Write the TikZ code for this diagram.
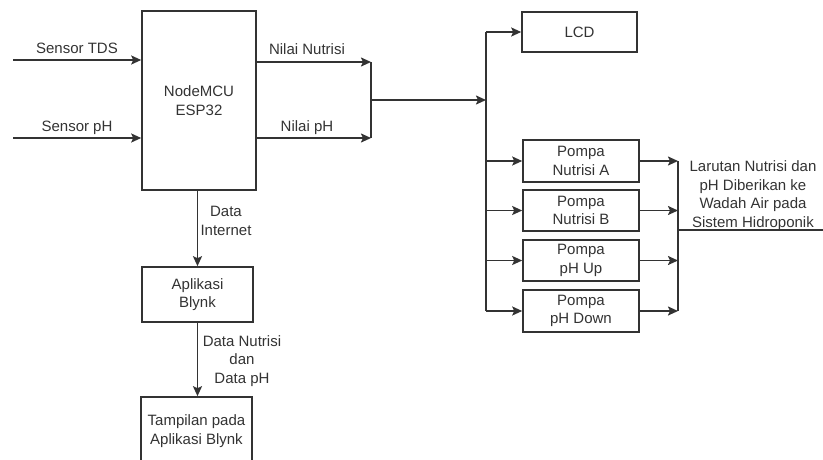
\documentclass[tikz,border=0pt]{standalone}
\usepackage{fontspec}
\setmainfont{Liberation Sans}
\usetikzlibrary{arrows.meta}
\definecolor{ink}{HTML}{333333}
\tikzset{
  blk/.style={draw=ink, line width=1.6pt, fill=white, text=ink, align=center, inner sep=0pt,
    font=\fontsize{15}{18.5}\selectfont},
  arr/.style={draw=ink, line width=1.8pt, -{Stealth[length=10pt,width=9pt,inset=2pt]}},
  ln/.style={draw=ink, line width=1.8pt},
  lbl/.style={text=ink, align=center, inner sep=0pt, font=\fontsize{15}{18.5}\selectfont}
}
\begin{document}
\begin{tikzpicture}[x=1pt,y=-1pt]
\useasboundingbox (0,0) rectangle (823,459);
\clip (0,0) rectangle (823,459);
% boxes
\node[blk, minimum width=114pt, minimum height=179pt] (mcu) at (199,100.5) {NodeMCU\\ESP32};
\node[blk, minimum width=115pt, minimum height=40pt] (lcd) at (579.5,32) {LCD};
\node[blk, minimum width=116pt, minimum height=42pt] (pa) at (581,161) {Pompa\\Nutrisi A};
\node[blk, minimum width=116pt, minimum height=41pt] (pb) at (581,210.5) {Pompa\\Nutrisi B};
\node[blk, minimum width=116pt, minimum height=41pt] (pc) at (581,260.5) {Pompa\\pH Up};
\node[blk, minimum width=116pt, minimum height=42pt] (pd) at (581,311) {Pompa\\pH Down};
\node[blk, minimum width=111pt, minimum height=55pt] (blynk) at (197.5,294.5) {Aplikasi\\Blynk};
\node[blk, minimum width=111pt, minimum height=68pt] (tamp) at (196.5,431) {Tampilan pada\\Aplikasi Blynk};
% inputs
\coordinate (tds) at (13,60);
\coordinate (sph) at (13,138);
\draw[arr] (tds) -- (tds -| mcu.west);
\draw[arr] (sph) -- (sph -| mcu.west);
\node[lbl] (ltds) at (77,48) {Sensor TDS};
\node[lbl] (lsph) at (77,128) {Sensor pH};
% outputs of mcu
\coordinate (ja) at (371,62);
\coordinate (jb) at (371,138);
\coordinate (jm) at (371,100);
\coordinate (bus) at (486,100);
\draw[arr] (ja -| mcu.east) -- (ja);
\draw[arr] (jb -| mcu.east) -- (jb);
\draw[ln] (ja) -- (jb);
\node[lbl] (lnn) at (307,49) {Nilai Nutrisi};
\node[lbl] (lnp) at (307,128) {Nilai pH};
\draw[arr] (jm) -- (bus);
% bus
\coordinate (bt) at (486,32);
\coordinate (bb) at (486,311);
\draw[ln] (bt) -- (bb);
\draw[arr] (bt) -- (bt -| lcd.west);
\draw[arr] (bt |- pa.west) -- (pa.west);
\draw[arr] (bt |- pb.west) -- (pb.west);
\draw[arr] (bt |- pc.west) -- (pc.west);
\draw[arr] (bt |- pd.west) -- (pd.west);
% outputs of pumps
\coordinate (ot) at (678,161);
\coordinate (ob) at (678,311);
\coordinate (om) at (678,230);
\coordinate (oe) at (823,230);
\draw[arr] (pa.east) -- (pa.east -| ot);
\draw[arr] (pb.east) -- (pb.east -| ot);
\draw[arr] (pc.east) -- (pc.east -| ot);
\draw[arr] (pd.east) -- (pd.east -| ot);
\draw[ln] (ot) -- (ob);
\draw[ln] (om) -- (oe);
\node[lbl] (lres) at (753,195.5) {Larutan Nutrisi dan\\pH Diberikan ke\\Wadah Air pada\\Sistem Hidroponik};
% blynk
\draw[arr] (mcu.south -| blynk.north) -- (blynk.north);
\draw[arr] (blynk.south) -- (blynk.south |- tamp.north);
\node[lbl] (ldi) at (226,221) {Data\\Internet};
\node[lbl] (ldn) at (242,361) {Data Nutrisi\\dan\\Data pH};
\end{tikzpicture}
\end{document}
